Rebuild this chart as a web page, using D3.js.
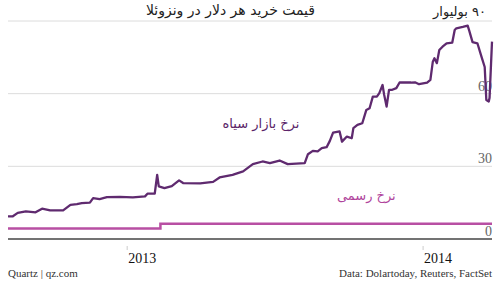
<!DOCTYPE html>
<meta charset="utf-8">
<script src="https://d3js.org/d3.v7.min.js"></script>
<style>
  body { margin: 0; background: #fff; }
</style>
<body>
<div id="my_dataviz"></div>
<script>

// black market rate, bolivars per dollar
var blackDates = ["2012-08-07","2012-08-13","2012-08-19","2012-08-29","2012-09-10","2012-09-18","2012-09-28","2012-10-14",
  "2012-10-23","2012-10-31","2012-11-06","2012-11-16","2012-11-20","2012-11-28","2012-12-07","2012-12-23",
  "2013-01-08","2013-01-23","2013-01-26","2013-02-04","2013-02-07","2013-02-09","2013-02-16","2013-02-25",
  "2013-03-06","2013-03-11","2013-04-01","2013-04-17","2013-04-25","2013-05-11","2013-05-24","2013-06-05",
  "2013-06-17","2013-06-26","2013-07-08","2013-07-18","2013-08-08","2013-08-12","2013-08-18","2013-08-24",
  "2013-08-29","2013-09-04","2013-09-08","2013-09-12","2013-09-20","2013-09-23","2013-09-29","2013-10-05",
  "2013-10-07","2013-10-12","2013-10-18","2013-10-23","2013-10-27","2013-10-31","2013-11-05","2013-11-08",
  "2013-11-12","2013-11-14","2013-11-17","2013-11-20","2013-11-24","2013-11-29","2013-12-03","2013-12-17",
  "2013-12-22","2013-12-27","2014-01-06","2014-01-10","2014-01-13","2014-01-15","2014-01-18","2014-01-21",
  "2014-01-25","2014-01-30","2014-02-06","2014-02-09","2014-02-11","2014-02-19","2014-02-25","2014-02-27",
  "2014-03-03","2014-03-09","2014-03-14","2014-03-18","2014-03-20","2014-03-23","2014-03-24","2014-03-27"]
var blackValues = [9.3,9.4,10.8,11.4,11.0,12.5,11.8,11.8,
  14.1,14.4,14.8,15.0,16.9,16.5,17.3,17.4,
  17.2,17.6,18.7,18.7,26.5,21.7,21.0,21.8,
  24.2,23.1,23.0,23.6,25.4,26.5,27.9,30.9,
  32.0,31.3,32.4,30.9,31.3,35.0,36.4,36.2,
  37.5,37.9,40.5,43.9,44.4,40.2,42.3,41.6,
  45.8,47.1,47.8,53.3,54.0,58.8,58.8,60.2,
  63.6,59.5,54.7,61.6,61.6,62.3,64.6,64.6,
  64.7,63.9,64.6,65.7,73.2,74.6,72.6,78.0,
  79.4,80.8,81.1,86.3,87.0,87.6,88.1,85.9,
  81.3,80.8,75.3,71.0,57.4,56.8,58.3,81.5]

// official rate
var officialDates = ["2012-08-07","2013-02-11","2013-02-11","2014-03-27"]
var officialValues = [4.3,4.3,6.3,6.3]

var yTicks = [0, 30, 60, 90]
var yTickLabels = ["0", "30", "60", "۹۰ بولیوار"]
var xTicks = ["2013-01-01", "2014-01-01"]
var xTickLabels = ["2013", "2014"]

var title = "قیمت خرید هر دلار در ونزوئلا"
var blackLabel = "نرخ بازار سیاه"
var officialLabel = "نرخ رسمی"

var width = 500, height = 281
var margin = {top: 21, right: 8, bottom: 42, left: 8}

var parse = d3.timeParse("%Y-%m-%d")

var svg = d3.select("#my_dataviz")
  .append("svg")
    .attr("width", width)
    .attr("height", height)

var x = d3.scaleTime()
  .domain([parse("2012-08-07"), parse("2014-03-27")])
  .range([margin.left, width - margin.right])

var y = d3.scaleLinear()
  .domain([0, 90])
  .range([height - margin.bottom, margin.top])

var serif = "'Liberation Serif', Georgia, serif"
var persian = "'DejaVu Sans', sans-serif"

// gridlines
svg.append("g")
  .selectAll("line")
  .data(yTicks.slice(1))
  .enter().append("line")
    .attr("x1", margin.left)
    .attr("x2", width - margin.right)
    .attr("y1", function(d) { return y(d) })
    .attr("y2", function(d) { return y(d) })
    .attr("stroke", "#dcdcdc")
    .attr("stroke-width", 1)

// y labels (numbers only, the top one has the unit in persian)
svg.append("g")
  .selectAll("text")
  .data(yTicks.slice(0, 3))
  .enter().append("text")
    .attr("x", width - margin.right)
    .attr("y", function(d) { return y(d) - 3 })
    .attr("text-anchor", "end")
    .attr("font-family", serif)
    .attr("font-size", "14px")
    .attr("fill", "#666")
    .text(function(d, i) { return yTickLabels[i] })

svg.append("text")
  .attr("x", width - margin.right - 6)
  .attr("y", y(90) - 5)
  .attr("direction", "rtl")
  .attr("text-anchor", "start")
  .attr("font-family", persian)
  .attr("font-size", "13px")
  .attr("fill", "#222")
  .text(yTickLabels[3])

// x ticks
var xt = svg.append("g")
  .selectAll("g")
  .data(xTicks)
  .enter().append("g")
    .attr("transform", function(d) { return "translate(" + x(parse(d)) + ",0)" })
xt.append("line")
  .attr("y1", y(0) + 7)
  .attr("y2", y(0) + 11)
  .attr("stroke", "#ccc")
xt.append("text")
  .attr("x", 1)
  .attr("y", y(0) + 24)
  .attr("font-family", serif)
  .attr("font-size", "14px")
  .attr("fill", "#111")
  .text(function(d, i) { return xTickLabels[i] })

// baseline
svg.append("line")
  .attr("x1", margin.left)
  .attr("x2", width - margin.right)
  .attr("y1", y(0))
  .attr("y2", y(0))
  .attr("stroke", "#444")
  .attr("stroke-width", 1.5)

var line = d3.line()
  .x(function(d) { return x(d[0]) })
  .y(function(d) { return y(d[1]) })

var official = officialDates.map(function(d, i) { return [parse(d), officialValues[i]] })
var black = blackDates.map(function(d, i) { return [parse(d), blackValues[i]] })

svg.append("path")
  .datum(official)
  .attr("fill", "none")
  .attr("stroke", "#b84fa3")
  .attr("stroke-width", 2.5)
  .attr("d", line)

svg.append("path")
  .datum(black)
  .attr("fill", "none")
  .attr("stroke", "#5f2a6f")
  .attr("stroke-width", 2.3)
  .attr("stroke-linejoin", "round")
  .attr("d", line)

// series labels
svg.append("text")
  .attr("x", x(parse("2013-06-15")))
  .attr("y", y(45) - 2)
  .attr("direction", "rtl")
  .attr("text-anchor", "middle")
  .attr("font-family", persian)
  .attr("font-size", "13px")
  .attr("fill", "#5a2468")
  .text(blackLabel)

svg.append("text")
  .attr("x", x(parse("2013-10-23")))
  .attr("y", y(16))
  .attr("direction", "rtl")
  .attr("text-anchor", "middle")
  .attr("font-family", persian)
  .attr("font-size", "13px")
  .attr("fill", "#b0449c")
  .text(officialLabel)

// title
svg.append("text")
  .attr("x", 315)
  .attr("y", 15)
  .attr("direction", "rtl")
  .attr("text-anchor", "start")
  .attr("font-family", persian)
  .attr("font-size", "14px")
  .attr("fill", "#222")
  .text(title)

// footer
svg.append("text")
  .attr("x", margin.left)
  .attr("y", 277)
  .attr("font-family", serif)
  .attr("font-size", "11px")
  .attr("fill", "#333")
  .text("Quartz | qz.com")

svg.append("text")
  .attr("x", width - margin.right)
  .attr("y", 277)
  .attr("text-anchor", "end")
  .attr("font-family", serif)
  .attr("font-size", "11px")
  .attr("fill", "#333")
  .text("Data: Dolartoday, Reuters, FactSet")

</script>
</body>
